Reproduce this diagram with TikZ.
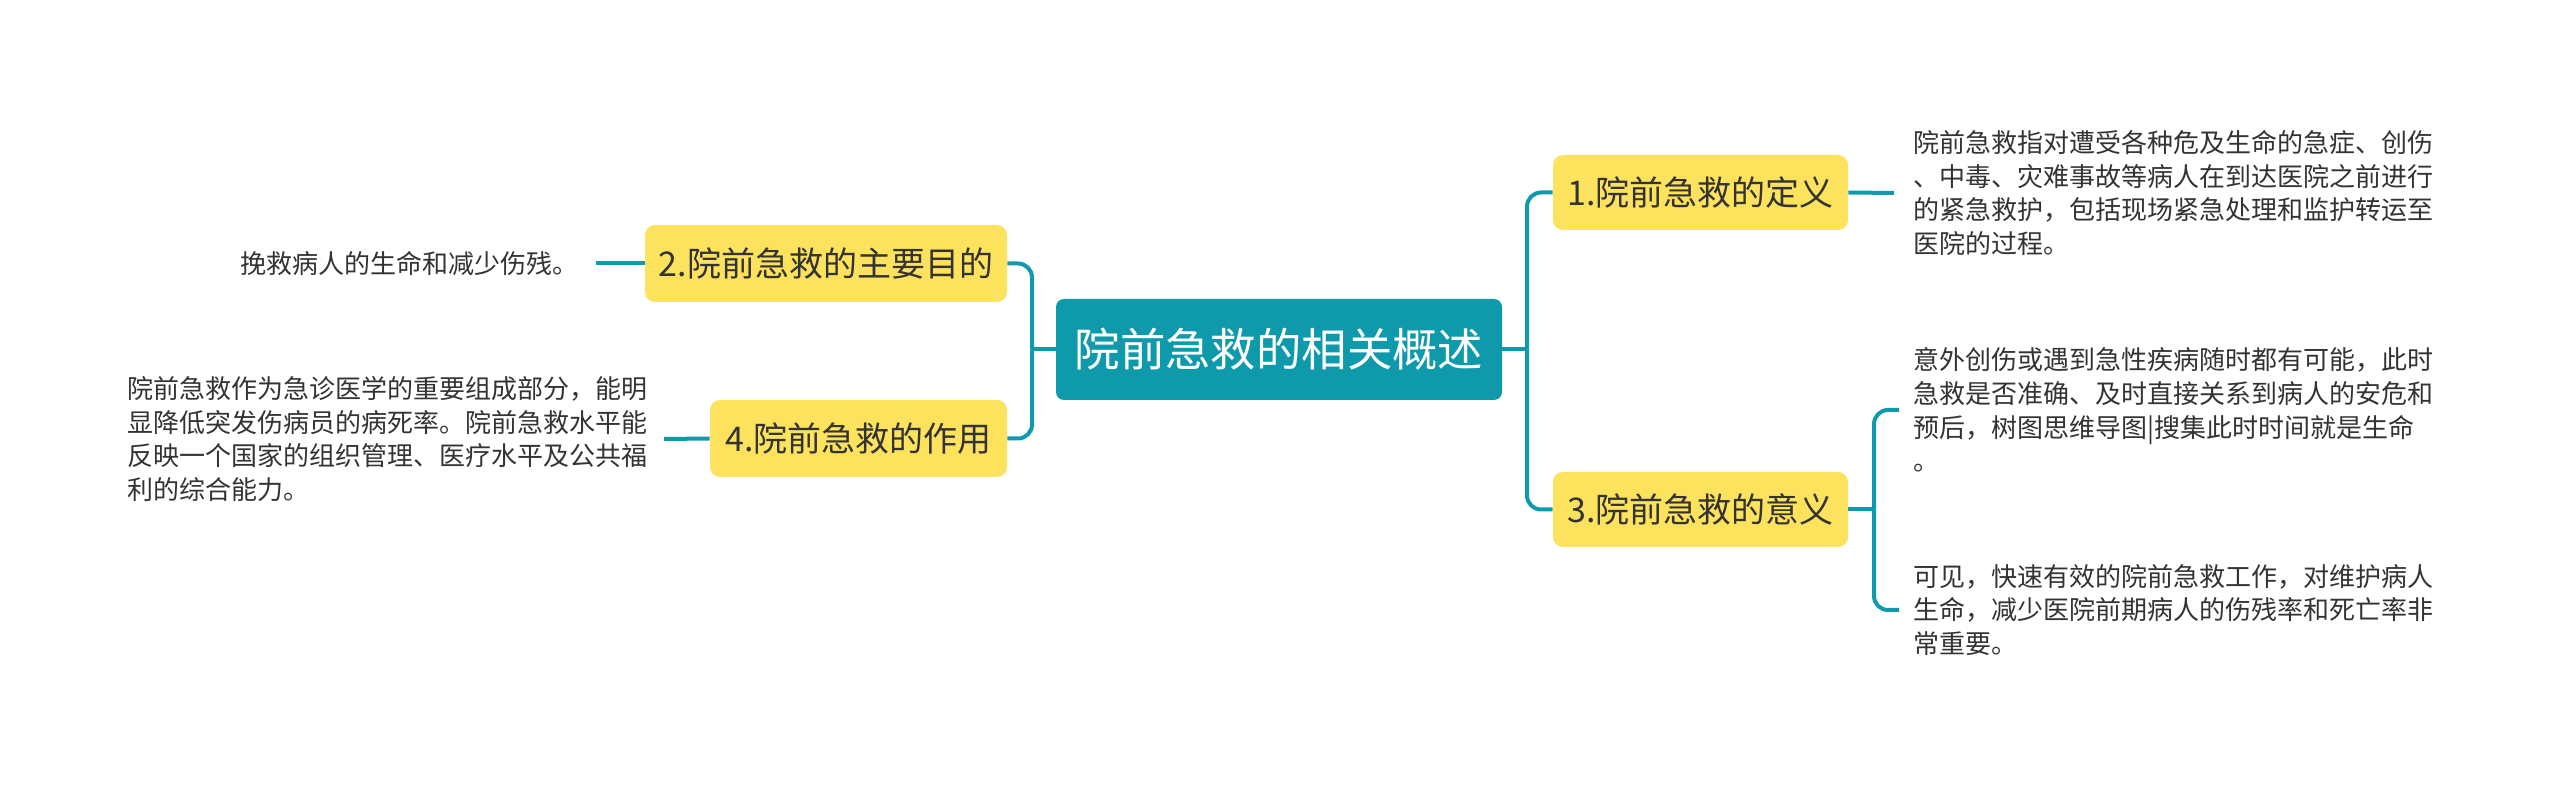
\documentclass[tikz,border=0pt]{standalone}
\usepackage{fontspec}
\setmainfont{Noto Sans CJK SC}
\definecolor{teal0}{HTML}{0F9AAB}
\definecolor{yel}{HTML}{FDE35D}
\definecolor{txt}{HTML}{333333}
\begin{document}
\begin{tikzpicture}[x=0.5pt,y=-0.5pt,
  conn/.style={draw=teal0,line width=2pt},
  rc/.style={rounded corners=7pt},
  topic/.style={fill=yel,rounded corners=5pt,text=txt,inner sep=0pt,
    font=\fontsize{17}{20}\selectfont},
  central/.style={fill=teal0,rounded corners=4pt,text=white,inner sep=0pt,
    minimum width=223pt,minimum height=50.5pt,font=\fontsize{22.7}{27}\selectfont},
  detail/.style={align=left,inner sep=0pt,text=txt,font=\fontsize{13}{16.8}\selectfont}]
\useasboundingbox[fill=white] (0,0) rectangle (2560,785);

\node[central] (c) at (1279,349.5) {院前急救的相关概述};

\node[topic,minimum width=147.5pt,minimum height=37.5pt] (b1) at (1700.5,192.5) {1.院前急救的定义};
\node[topic,minimum width=147.5pt,minimum height=37.5pt] (b3) at (1700.5,509.5) {3.院前急救的意义};
\node[topic,minimum width=181pt,minimum height=38.5pt] (b2) at (826,263.5) {2.院前急救的主要目的};
\node[topic,minimum width=148.5pt,minimum height=38.5pt] (b4) at (858.5,438.5) {4.院前急救的作用};

\node[detail,anchor=west] (t1) at (1913,193) {院前急救指对遭受各种危及生命的急症、创伤\\、中毒、灾难事故等病人在到达医院之前进行\\的紧急救护，包括现场紧急处理和监护转运至\\医院的过程。};
\node[detail,anchor=west] (t3a) at (1913,410) {意外创伤或遇到急性疾病随时都有可能，此时\\急救是否准确、及时直接关系到病人的安危和\\预后，树图思维导图|搜集此时时间就是生命\\。};
\node[detail,anchor=west] (t3b) at (1913,610) {可见，快速有效的院前急救工作，对维护病人\\生命，减少医院前期病人的伤残率和死亡率非\\常重要。};
\node[detail,anchor=east] (t2) at (579,263.5) {挽救病人的生命和减少伤残。};
\node[detail,anchor=east] (t4) at (648,439) {院前急救作为急诊医学的重要组成部分，能明\\显降低突发伤病员的病死率。院前急救水平能\\反映一个国家的组织管理、医疗水平及公共福\\利的综合能力。};

\coordinate (rj) at (1527,349.5);
\coordinate (lj) at (1032,349.5);
\coordinate (rj3) at (1874,509.5);

\draw[conn] (c.east) -- (rj);
\draw[conn,rc] (rj) |- (b1.west);
\draw[conn,rc] (rj) |- (b3.west);
\draw[conn] (c.west) -- (lj);
\draw[conn,rc] (lj) |- (b2.east);
\draw[conn,rc] (lj) |- (b4.east);

\draw[conn] (b1.east) -- ([xshift=-9.5pt]t1.west);
\draw[conn] (b3.east) -- (rj3);
\draw[conn,rc] (rj3) |- ([xshift=-7pt]t3a.west);
\draw[conn,rc] (rj3) |- ([xshift=-7pt]t3b.west);
\draw[conn] (b2.west) -- ([xshift=8.5pt]t2.east);
\draw[conn] (b4.west) -- ([xshift=8pt]t4.east);
\end{tikzpicture}
\end{document}
